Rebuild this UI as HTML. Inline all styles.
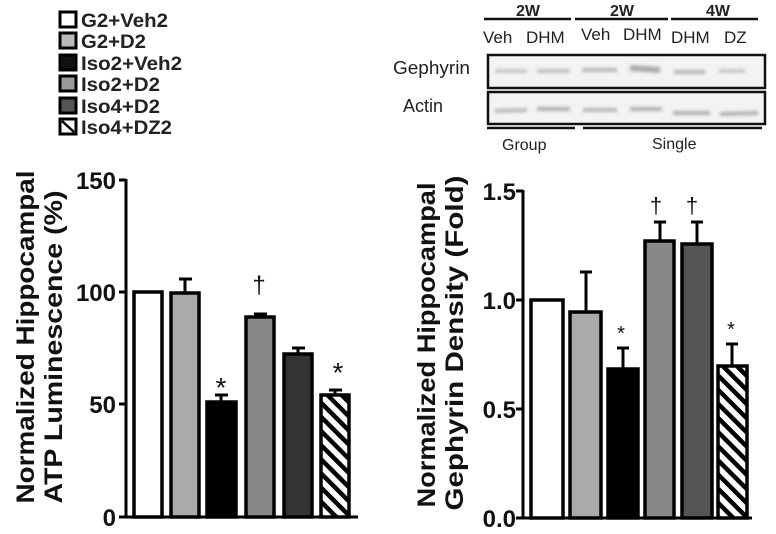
<!DOCTYPE html>
<html><head><style>
body{margin:0;background:#fff;width:776px;height:529px;overflow:hidden;font-family:"Liberation Sans",Arial,sans-serif}
</style></head><body>
<svg width="776" height="529" viewBox="0 0 776 529" xmlns="http://www.w3.org/2000/svg" font-family="Liberation Sans, Arial, sans-serif">
<defs>
<pattern id="h" patternUnits="userSpaceOnUse" width="10" height="10" patternTransform="rotate(-45)">
<rect width="10" height="10" fill="#fff"/><rect width="4.5" height="10" fill="#000"/>
</pattern>
<filter id="b"><feGaussianBlur stdDeviation="1.5"/></filter>
</defs>
<!-- legend -->
<g stroke="#000" stroke-width="3">
<rect x="60" y="12" width="16" height="15" fill="#fff"/>
<rect x="60" y="33" width="16" height="15" fill="#bbb"/>
<rect x="60" y="55" width="16" height="15" fill="#111"/>
<rect x="60" y="76" width="16" height="15" fill="#999"/>
<rect x="60" y="98" width="16" height="15" fill="#555"/>
<rect x="60" y="119" width="16" height="15" fill="#fff"/>
<line x1="62" y1="121" x2="74" y2="132" stroke-width="2.5"/>
</g>
<g font-size="19" font-weight="bold" fill="#222">
<text x="81" y="27" textLength="87" lengthAdjust="spacingAndGlyphs">G2+Veh2</text>
<text x="81" y="48" textLength="65" lengthAdjust="spacingAndGlyphs">G2+D2</text>
<text x="81" y="70" textLength="101" lengthAdjust="spacingAndGlyphs">Iso2+Veh2</text>
<text x="81" y="91" textLength="79" lengthAdjust="spacingAndGlyphs">Iso2+D2</text>
<text x="81" y="113" textLength="79" lengthAdjust="spacingAndGlyphs">Iso4+D2</text>
<text x="81" y="134" textLength="91" lengthAdjust="spacingAndGlyphs">Iso4+DZ2</text>
</g>
<!-- blot -->
<g stroke="#111" stroke-width="2.5">
<line x1="484" y1="19" x2="571" y2="19"/><line x1="575" y1="19" x2="668" y2="19"/><line x1="671" y1="19" x2="758" y2="19"/>
</g>
<g fill="#222">
<text x="528" y="16" font-size="16" font-weight="bold" text-anchor="middle">2W</text>
<text x="622" y="16" font-size="16" font-weight="bold" text-anchor="middle">2W</text>
<text x="718" y="16" font-size="16" font-weight="bold" text-anchor="middle">4W</text>
<text x="483" y="43" font-size="17">Veh</text><text x="526" y="43" font-size="17">DHM</text>
<text x="581" y="40" font-size="17">Veh</text><text x="623" y="40" font-size="17">DHM</text>
<text x="671" y="43" font-size="17">DHM</text><text x="724" y="43" font-size="17">DZ</text>
<text x="393" y="74" font-size="18" textLength="77" lengthAdjust="spacingAndGlyphs">Gephyrin</text>
<text x="403" y="112" font-size="18">Actin</text>
<text x="502" y="150" font-size="16">Group</text>
<text x="652" y="149" font-size="16">Single</text>
</g>
<rect x="488" y="55" width="277" height="33" fill="#f3f3f3" stroke="#111" stroke-width="2.5"/>
<rect x="488" y="92" width="277" height="32" fill="#f3f3f3" stroke="#111" stroke-width="2.5"/>
<g filter="url(#b)" stroke-width="4">
<line x1="495" y1="71" x2="527" y2="71" stroke="#c8c8c8"/><line x1="537" y1="71" x2="570" y2="71" stroke="#c0c0c0"/>
<line x1="582" y1="70" x2="617" y2="70" stroke="#b8b8b8"/><line x1="630" y1="68" x2="660" y2="70" stroke="#aaa" stroke-width="6"/>
<line x1="674" y1="72" x2="705" y2="72" stroke="#b8b8b8"/><line x1="719" y1="71" x2="745" y2="71" stroke="#c8c8c8"/>
<line x1="495" y1="111" x2="527" y2="110" stroke="#b8b8b8"/><line x1="537" y1="109" x2="570" y2="109" stroke="#b0b0b0"/>
<line x1="583" y1="110" x2="617" y2="110" stroke="#b8b8b8"/><line x1="630" y1="109" x2="662" y2="109" stroke="#b0b0b0"/>
<line x1="673" y1="113" x2="710" y2="113" stroke="#b0b0b0"/><line x1="720" y1="114" x2="758" y2="113" stroke="#b0b0b0"/>
</g>
<g stroke="#111" stroke-width="2.5"><line x1="487" y1="128" x2="575" y2="128"/><line x1="583" y1="128" x2="762" y2="128"/></g>

<!-- left chart -->
<g font-weight="bold" font-size="25" fill="#111">
<text transform="translate(34,337) rotate(-90)" text-anchor="middle" textLength="333" lengthAdjust="spacingAndGlyphs">Normalized Hippocampal</text>
<text transform="translate(62,347) rotate(-90)" text-anchor="middle" textLength="313" lengthAdjust="spacingAndGlyphs">ATP Luminescence (%)</text>
<text x="116" y="189" text-anchor="end" font-size="24">150</text>
<text x="116" y="301" text-anchor="end" font-size="24">100</text>
<text x="116" y="413" text-anchor="end" font-size="24">50</text>
<text x="116" y="526" text-anchor="end" font-size="24">0</text>
</g>
<g stroke="#000" stroke-width="3" fill="none">
<line x1="126" y1="179" x2="126" y2="518"/>
<line x1="119" y1="180" x2="126" y2="180"/><line x1="119" y1="292" x2="126" y2="292"/>
<line x1="119" y1="404" x2="126" y2="404"/><line x1="119" y1="517" x2="126" y2="517"/>
<line x1="124" y1="517" x2="358" y2="517"/>
<path d="M185 293V279M179 279H192M221 402V395M215 395H228M260 317V314M254 314H267M298 354V348M292 348H305M335 395V390M329 390H342"/>
</g>
<g stroke="#000" stroke-width="3.5">
<rect x="134" y="292" width="28" height="225" fill="#fff"/>
<rect x="171" y="293" width="28" height="224" fill="#aaa"/>
<rect x="207" y="402" width="29" height="115" fill="#000"/>
<rect x="246" y="317" width="28" height="200" fill="#888"/>
<rect x="284" y="354" width="28" height="163" fill="#333"/>
<rect x="321" y="395" width="28" height="122" fill="url(#h)"/>
</g>
<g font-size="28" fill="#111" text-anchor="middle">
<text x="221" y="397">*</text><text x="338" y="382">*</text>
<text x="259" y="293" font-size="24">†</text>
</g>

<!-- right chart -->
<g font-weight="bold" font-size="25" fill="#111">
<text transform="translate(435,345) rotate(-90)" text-anchor="middle" textLength="325" lengthAdjust="spacingAndGlyphs">Normalized Hippocampal</text>
<text transform="translate(463,343) rotate(-90)" text-anchor="middle" textLength="335" lengthAdjust="spacingAndGlyphs">Gephyrin Density (Fold)</text>
<text x="516" y="200" text-anchor="end" font-size="24">1.5</text>
<text x="516" y="309" text-anchor="end" font-size="24">1.0</text>
<text x="516" y="418" text-anchor="end" font-size="24">0.5</text>
<text x="516" y="527" text-anchor="end" font-size="24">0.0</text>
</g>
<g stroke="#000" stroke-width="3" fill="none">
<line x1="523" y1="190" x2="523" y2="519"/>
<line x1="516" y1="191" x2="523" y2="191"/><line x1="516" y1="300" x2="523" y2="300"/>
<line x1="516" y1="409" x2="523" y2="409"/><line x1="516" y1="518" x2="523" y2="518"/>
<line x1="521" y1="518" x2="752" y2="518"/>
<path d="M586 312V272M580 272H592M623 369V348M617 348H629M660 241V222M654 222H666M697 244V222M691 222H703M732 366V344M726 344H738"/>
</g>
<g stroke="#000" stroke-width="3.5">
<rect x="531" y="300" width="32" height="218" fill="#fff"/>
<rect x="570" y="312" width="31" height="206" fill="#aaa"/>
<rect x="608" y="369" width="30" height="149" fill="#000"/>
<rect x="645" y="241" width="29" height="277" fill="#888"/>
<rect x="682" y="244" width="30" height="274" fill="#555"/>
<rect x="718" y="366" width="29" height="152" fill="url(#h)"/>
</g>
<g font-size="20" fill="#111" text-anchor="middle">
<text x="621" y="340">*</text><text x="731" y="336">*</text>
<text x="656" y="213" font-size="22">†</text><text x="692" y="213" font-size="22">†</text>
</g>
</svg>
</body></html>
